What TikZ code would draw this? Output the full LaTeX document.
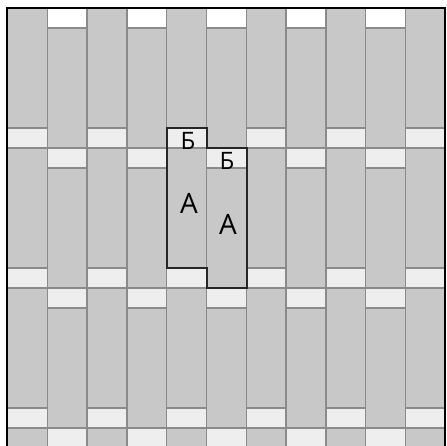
\documentclass[tikz,border=0pt]{standalone}
\usepackage{fontspec}
\setmainfont{Open Sans}
\definecolor{plankgray}{HTML}{C8C8C8}
\definecolor{gapgray}{HTML}{EEEEEE}
\definecolor{seamgray}{HTML}{8A8A8A}
\begin{document}
\begin{tikzpicture}[x=1pt,y=-1pt,
  plank/.style={fill=plankgray,draw=seamgray,line width=1.5pt},
  gap/.style={fill=gapgray,draw=seamgray,line width=1.5pt},
  frame/.style={draw=black,line width=2.6pt},
  outline/.style={draw=black!85,line width=2.2pt},
  small/.style={inner sep=0pt,font=\fontsize{24}{24}\selectfont},
  big/.style={inner sep=0pt,font=\fontsize{28}{28}\selectfont}]
  \useasboundingbox (0,0) rectangle (446,446);
  % planks, staggered by column
  \begin{scope}
    \clip (7,8) rectangle (445,446);
    \foreach \i in {0,...,10}{
      \pgfmathsetmacro\xa{7.5+39.8*\i}
      \pgfmathsetmacro\xb{\xa+39.8}
      \pgfmathsetmacro\off{8+20*mod(\i,2)}
      \foreach \k in {0,...,3}{
        \pgfmathsetmacro\ya{\off+140*\k}
        \draw[plank] (\xa,\ya) rectangle (\xb,\ya+120);
        \draw[gap] (\xa,\ya+120) rectangle (\xb,\ya+140);
      }
    }
  \end{scope}
  \draw[frame] (7,446) -- (7,8) -- (445,8) -- (445,446);
  % marked piece
  \draw[outline] (167,128) -- (207,128) -- (207,148) -- (247,148)
    -- (247,288) -- (207,288) -- (207,268) -- (167,268) -- cycle;
  \node[small] (b1) at (188,140.5) {Б};
  \node[small] (b2) at (227,161) {Б};
  \node[big] (a1) at (189,203) {А};
  \node[big] (a2) at (228,224) {А};
\end{tikzpicture}
\end{document}
